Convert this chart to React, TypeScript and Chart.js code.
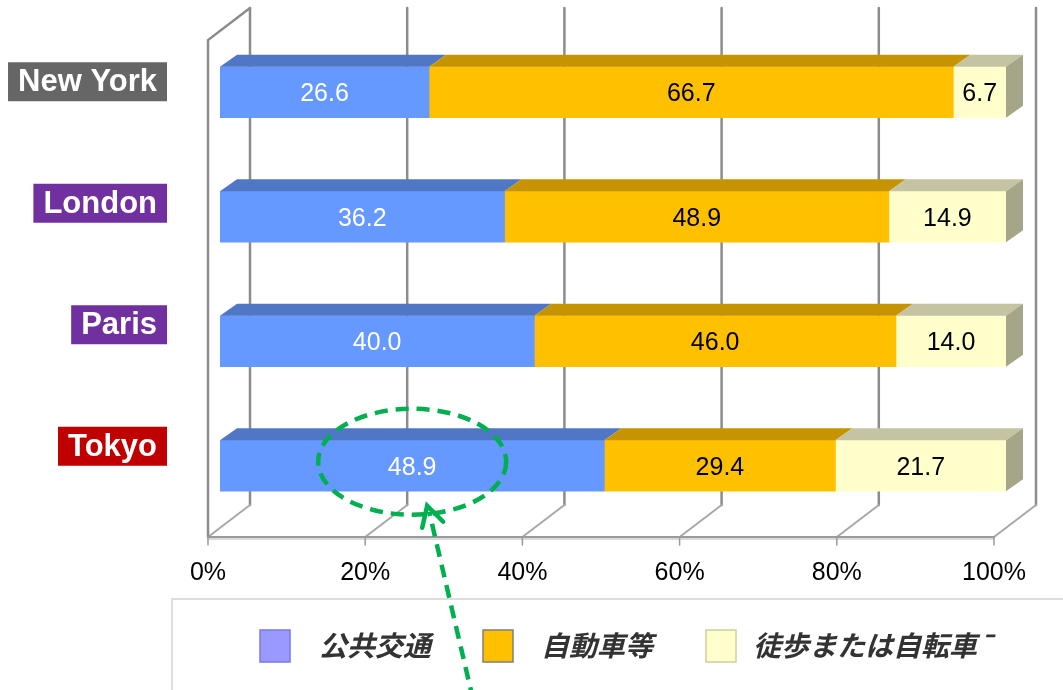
import React, { useEffect, useRef } from "react";
import { Chart, registerables } from "chart.js";

Chart.register(...registerables);

const categories = ["New York", "London", "Paris", "Tokyo"];
const publicTransit = [26.6, 36.2, 40.0, 48.9];
const carEtc = [66.7, 48.9, 46.0, 29.4];
const walkBike = [6.7, 14.9, 14.0, 21.7];
const seriesLabels = ["公共交通", "自動車等", "徒歩または自転車¯"];
const tickValues = [0, 20, 40, 60, 80, 100];

const categoryBoxColors = ["#666666", "#7030A0", "#7030A0", "#C00000"];
const frontColors = ["#6699FF", "#FFC000", "#FFFFCC"];
const topColors = ["#4F77C6", "#C69400", "#C4C4A2"];
const sideColors = ["#3E5FA0", "#A07800", "#A5A588"];
const valueTextColors = ["#FFFFFF", "#000000", "#000000"];
const legendSwatch = ["#9999FF", "#FFC000", "#FFFFCC"];
const legendSwatchBorder = ["#7A7AE6", "#7F7F7F", "#CFCF9A"];

const SANS = '"Liberation Sans", Arial, sans-serif';
const CJK = '"Noto Sans CJK JP", "Noto Sans", sans-serif';
const DX = 17;
const DY = 12;

const threeD = {
  id: "threeD",
  beforeDatasetsDraw(chart: any) {
    const ctx = chart.ctx;
    const xs = chart.scales.x;
    const area = chart.chartArea;
    const fx = (v: number) => xs.getPixelForValue(v) - 12;
    const wdx = 42;
    const wdy = 32;
    const floorY = area.bottom + 9;
    const backFloorY = floorY - wdy;
    const backTop = 8;
    ctx.save();
    ctx.lineCap = "round";
    tickValues.forEach((t) => {
      const x = fx(t);
      ctx.strokeStyle = "#8C8C8C";
      ctx.lineWidth = 2.5;
      ctx.beginPath();
      ctx.moveTo(x + wdx, backTop);
      ctx.lineTo(x + wdx, backFloorY);
      ctx.stroke();
      ctx.strokeStyle = "#A8A8A8";
      ctx.lineWidth = 2;
      ctx.beginPath();
      ctx.moveTo(x, floorY);
      ctx.lineTo(x + wdx, backFloorY);
      ctx.stroke();
    });
    const x0 = fx(0);
    ctx.strokeStyle = "#8C8C8C";
    ctx.lineWidth = 2.5;
    ctx.beginPath();
    ctx.moveTo(x0, floorY);
    ctx.lineTo(x0, backTop + wdy);
    ctx.lineTo(x0 + wdx, backTop);
    ctx.stroke();
    ctx.strokeStyle = "#DADADA";
    ctx.lineWidth = 2;
    ctx.beginPath();
    ctx.moveTo(x0, floorY + 2);
    ctx.lineTo(fx(100), floorY + 2);
    ctx.stroke();
    ctx.strokeStyle = "#9A9A9A";
    ctx.lineWidth = 2;
    ctx.beginPath();
    ctx.moveTo(x0, floorY);
    ctx.lineTo(fx(100), floorY);
    ctx.stroke();
    ctx.fillStyle = "#000";
    ctx.font = `25px ${SANS}`;
    ctx.textAlign = "center";
    ctx.textBaseline = "middle";
    tickValues.forEach((t) => {
      const x = fx(t);
      ctx.strokeStyle = "#9A9A9A";
      ctx.lineWidth = 1.5;
      ctx.beginPath();
      ctx.moveTo(x, floorY);
      ctx.lineTo(x, floorY + 8);
      ctx.stroke();
      ctx.fillText(`${t}%`, x, floorY + 36);
    });
    ctx.restore();
  },
  afterDatasetsDraw(chart: any) {
    const ctx = chart.ctx;
    const n = chart.data.datasets.length;
    ctx.save();
    for (let d = 0; d < n; d++) {
      const meta = chart.getDatasetMeta(d);
      meta.data.forEach((el: any) => {
        const p = el.getProps(["x", "y", "base", "height"], true);
        const x0 = Math.min(p.base, p.x);
        const x1 = Math.max(p.base, p.x);
        const top = p.y - p.height / 2;
        const bottom = p.y + p.height / 2;
        ctx.fillStyle = topColors[d];
        ctx.beginPath();
        ctx.moveTo(x0, top);
        ctx.lineTo(x0 + DX, top - DY);
        ctx.lineTo(x1 + DX, top - DY);
        ctx.lineTo(x1, top);
        ctx.closePath();
        ctx.fill();
        if (d === n - 1) {
          ctx.fillStyle = sideColors[d];
          ctx.beginPath();
          ctx.moveTo(x1, top);
          ctx.lineTo(x1 + DX, top - DY);
          ctx.lineTo(x1 + DX, bottom - DY);
          ctx.lineTo(x1, bottom);
          ctx.closePath();
          ctx.fill();
        }
      });
    }
    ctx.font = `25px ${SANS}`;
    ctx.textAlign = "center";
    ctx.textBaseline = "middle";
    for (let d = 0; d < n; d++) {
      const meta = chart.getDatasetMeta(d);
      const vals = chart.data.datasets[d].data;
      meta.data.forEach((el: any, i: number) => {
        const p = el.getProps(["x", "y", "base"], true);
        ctx.fillStyle = valueTextColors[d];
        ctx.fillText(Number(vals[i]).toFixed(1), (p.x + p.base) / 2, p.y + 2);
      });
    }
    const ys = chart.scales.y;
    ctx.font = `bold 31px ${SANS}`;
    ctx.textBaseline = "middle";
    ctx.textAlign = "right";
    categories.forEach((c, i) => {
      const cy = ys.getPixelForValue(i) - 10.5 - 3 * i;
      const right = 157;
      const w = ctx.measureText(c).width;
      const pad = 10;
      ctx.fillStyle = categoryBoxColors[i];
      ctx.fillRect(right - w - pad, cy - 19.5, w + 2 * pad, 39);
      ctx.fillStyle = "#FFFFFF";
      ctx.fillText(c, right, cy + 1);
    });
    ctx.restore();
  },
  afterDraw(chart: any) {
    const ctx = chart.ctx;
    ctx.save();
    ctx.strokeStyle = "#DDDDDD";
    ctx.lineWidth = 2;
    ctx.strokeRect(172, 599, 1000, 200);
    const swatchX = [260, 483, 706];
    const textX = [319, 541, 753];
    ctx.font = `italic bold 28px ${CJK}`;
    ctx.textAlign = "left";
    ctx.textBaseline = "middle";
    seriesLabels.forEach((lab, i) => {
      const sx = swatchX[i];
      ctx.fillStyle = legendSwatch[i];
      ctx.fillRect(sx, 630, 30, 32);
      ctx.strokeStyle = legendSwatchBorder[i];
      ctx.lineWidth = 1.5;
      ctx.strokeRect(sx, 630, 30, 32);
      ctx.fillStyle = "#333333";
      ctx.fillText(lab, textX[i], 645);
    });
    const xs = chart.scales.x;
    const ys = chart.scales.y;
    const last = categories.length - 1;
    const cx = xs.getPixelForValue(publicTransit[last] / 2);
    const cy = ys.getPixelForValue(last) - 4;
    ctx.strokeStyle = "#00B050";
    ctx.lineWidth = 4.5;
    ctx.setLineDash([13, 8]);
    ctx.beginPath();
    ctx.ellipse(cx, cy, 94, 53, 0, 0, Math.PI * 2);
    ctx.stroke();
    const tipX = cx + 15;
    const tipY = cy + 44;
    ctx.beginPath();
    ctx.moveTo(tipX + 46, 700);
    ctx.lineTo(tipX + 2, tipY + 6);
    ctx.stroke();
    ctx.setLineDash([]);
    ctx.lineCap = "round";
    ctx.beginPath();
    ctx.moveTo(tipX - 5, tipY + 22);
    ctx.lineTo(tipX, tipY);
    ctx.lineTo(tipX + 16, tipY + 16);
    ctx.stroke();
    ctx.restore();
  },
};

export default function App() {
  const ref = useRef<HTMLCanvasElement | null>(null);
  useEffect(() => {
    if (!ref.current) return;
    const chart = new Chart(ref.current, {
      type: "bar",
      data: {
        labels: categories,
        datasets: [publicTransit, carEtc, walkBike].map((data, i) => ({
          label: seriesLabels[i],
          data,
          backgroundColor: frontColors[i],
          borderWidth: 0,
          barThickness: 51,
        })),
      },
      options: {
        indexAxis: "y",
        responsive: false,
        animation: false,
        events: [],
        layout: { padding: { left: 220, right: 57, top: 30, bottom: 162 } },
        scales: {
          x: { stacked: true, min: 0, max: 100, display: false },
          y: { stacked: true, display: false },
        },
        plugins: {
          legend: { display: false },
          tooltip: { enabled: false },
          title: { display: false },
        },
      },
      plugins: [threeD],
    } as any);
    return () => chart.destroy();
  }, []);
  return (
    <div style={{ position: "fixed", left: 0, top: 0, width: 1063, height: 690, background: "#fff" }}>
      <canvas ref={ref} width={1063} height={690} />
    </div>
  );
}
